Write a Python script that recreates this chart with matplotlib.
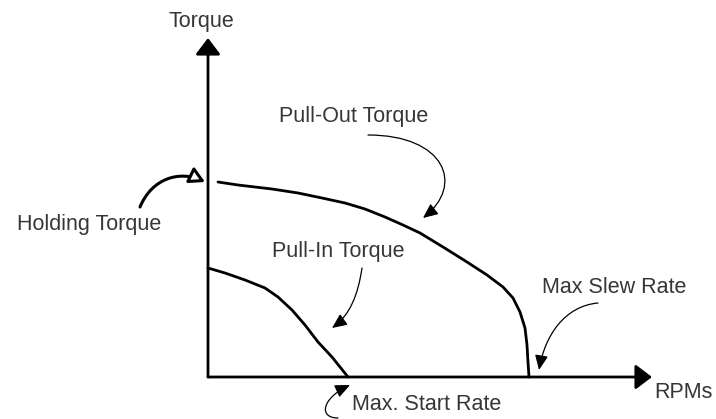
import matplotlib
matplotlib.use("Agg")
import matplotlib.pyplot as plt
from matplotlib.patches import FancyArrowPatch
from matplotlib.path import Path

# ---- data (arbitrary units: speed vs torque) ----
pull_out_rpm = [10, 30, 64, 90, 114, 137, 157, 177, 195, 212, 235, 259, 279, 295,
                305, 312, 317, 319, 320, 321]
pull_out_torque = [195, 192, 188, 184, 179, 174, 168, 160, 152, 144, 130, 115, 102, 90,
                   79, 65, 49, 32, 15, 0]

pull_in_rpm = [0, 17, 37, 57, 70, 84, 97, 110, 124, 140]
pull_in_torque = [109, 104, 97, 89, 80, 67, 52, 35, 20, 0]

x_axis_label = "RPMs"
y_axis_label = "Torque"
labels = {
    "holding": "Holding Torque",
    "pull_out": "Pull-Out Torque",
    "pull_in": "Pull-In Torque",
    "slew": "Max Slew Rate",
    "start": "Max. Start Rate",
}

plt.rcParams["font.family"] = ["Liberation Sans", "DejaVu Sans"]
TXT = "#363636"
FS = 15.5

fig = plt.figure(figsize=(7.16, 4.19), dpi=100)
ax = fig.add_axes([0, 0, 1, 1])
ax.set_xlim(-208, 508)
ax.set_ylim(-42, 377)
ax.axis("off")

# axes with arrowheads
ax_style = "-|>,head_length=0.5,head_width=0.38"
ax.add_patch(FancyArrowPatch((0, 0), (0, 339), arrowstyle=ax_style, mutation_scale=20,
                             color="black", lw=2.0, shrinkA=0, shrinkB=0))
ax.add_patch(FancyArrowPatch((0, 0), (444, 0), arrowstyle=ax_style, mutation_scale=20,
                             color="black", lw=2.0, shrinkA=0, shrinkB=0))

# curves
ax.plot(pull_out_rpm, pull_out_torque, color="black", lw=2.0, solid_capstyle="round",
        solid_joinstyle="round")
ax.plot(pull_in_rpm, pull_in_torque, color="black", lw=2.0, solid_capstyle="round",
        solid_joinstyle="round")

# curved annotation arrows
def curved_arrow(pts, lw=0.9, style="-|>,head_length=0.45,head_width=0.2", fc="black", ms=20):
    path = Path(pts, [Path.MOVETO, Path.CURVE4, Path.CURVE4, Path.CURVE4])
    p = FancyArrowPatch(path=path, arrowstyle=style, mutation_scale=ms, lw=lw,
                        edgecolor="black", facecolor=fc, shrinkA=0, shrinkB=0)
    ax.add_patch(p)

curved_arrow([(160, 242), (237, 242), (257, 192), (215, 159)])
curved_arrow([(154, 109), (150, 82), (142, 62), (124, 49)])
curved_arrow([(390, 74), (357, 71), (337, 42), (331, 7)])
curved_arrow([(130, -41), (110, -41), (114, -21), (142, -8)])
curved_arrow([(-68, 170), (-56, 199), (-28, 207), (-3, 195)], lw=2.2,
             style="-|>,head_length=0.45,head_width=0.25", fc="white")

# texts
ax.text(-7, 356, y_axis_label, ha="center", va="center", fontsize=FS, color=TXT)
ax.text(475, -21, x_axis_label, ha="center", va="baseline", fontsize=FS, color=TXT)
ax.text(-119, 147, labels["holding"], ha="center", va="baseline", fontsize=FS, color=TXT)
ax.text(146, 255, labels["pull_out"], ha="center", va="baseline", fontsize=FS, color=TXT)
ax.text(130, 120, labels["pull_in"], ha="center", va="baseline", fontsize=FS, color=TXT)
ax.text(406, 84, labels["slew"], ha="center", va="baseline", fontsize=FS, color=TXT)
ax.text(144, -33, labels["start"], ha="left", va="baseline", fontsize=FS, color=TXT)

fig.savefig("out.png", dpi=100)
